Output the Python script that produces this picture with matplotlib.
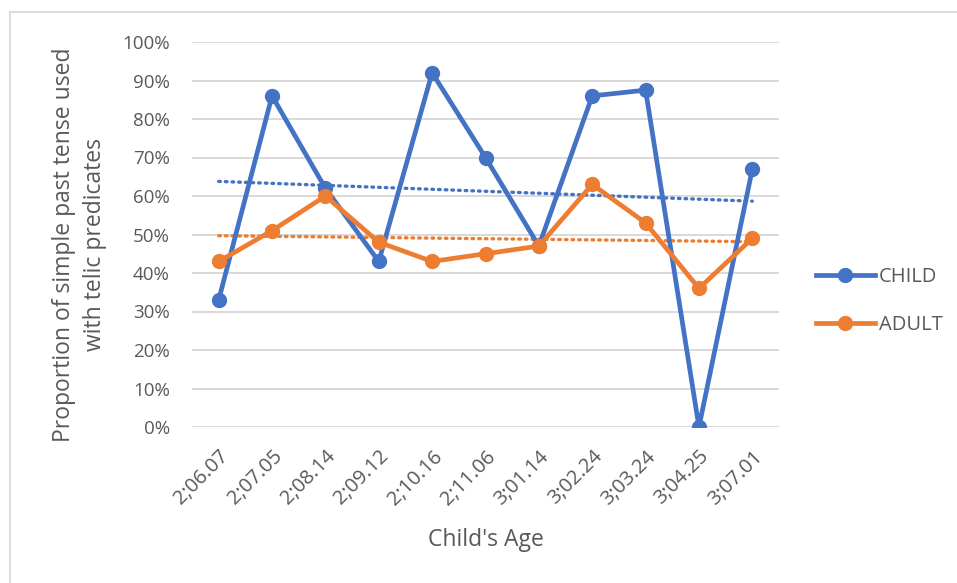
import matplotlib
matplotlib.use("Agg")
import matplotlib.pyplot as plt
import numpy as np
from matplotlib.patches import Rectangle

ages = ["2;06.07", "2;07.05", "2;08.14", "2;09.12", "2;10.16", "2;11.06",
        "3;01.14", "3;02.24", "3;03.24", "3;04.25", "3;07.01"]
child = [0.33, 0.86, 0.62, 0.43, 0.92, 0.70, 0.47, 0.86, 0.875, 0.00, 0.67]
adult = [0.43, 0.51, 0.60, 0.48, 0.43, 0.45, 0.47, 0.63, 0.53, 0.36, 0.49]

blue = "#4472C4"
orange = "#ED7D31"
txt = "#595959"
plt.rcParams['font.family'] = ['Open Sans', 'DejaVu Sans']

fig = plt.figure(figsize=(9.57, 5.83), dpi=100)
ax = fig.add_axes([192/957, 156/583, 587/957, 385/583])
x = np.arange(len(ages))

for y in np.arange(0, 1.01, 0.1):
    ax.axhline(y, color="#d9d9d9", lw=1.4, zorder=0)

ax.plot(x, child, color=blue, lw=3.4, marker="o", ms=10, label="CHILD", zorder=3)
ax.plot(x, adult, color=orange, lw=3.4, marker="o", ms=10, label="ADULT", zorder=4)

for s, c in ((child, blue), (adult, orange)):
    p = np.polyfit(x, s, 1)
    ax.plot(x, np.polyval(p, x), color=c, lw=2.4, ls=(0, (0.5, 1.5)),
            dash_capstyle="round", zorder=2)

ax.set_xlim(-0.5, len(ages) - 0.5)
ax.set_ylim(0, 1)
ax.set_yticks(np.arange(0, 1.01, 0.1))
ax.set_yticklabels([f"{int(round(v*100))}%" for v in np.arange(0, 1.01, 0.1)])
ax.set_xticks(x)
ax.set_xticklabels(ages, rotation=45, ha="right", rotation_mode="anchor")
ax.tick_params(axis="both", length=0, colors=txt)
ax.tick_params(axis="y", pad=16, labelsize=13.5)
ax.tick_params(axis="x", pad=14, labelsize=14.5)
for sp in ax.spines.values():
    sp.set_visible(False)

ax.set_ylabel("Proportion of simple past tense used\nwith telic predicates",
              fontsize=16.5, color=txt, linespacing=1.4)
ax.yaxis.set_label_coords(-0.145, 0.473)
ax.set_xlabel("Child's Age", fontsize=16.5, color=txt, labelpad=14)

leg = ax.legend(loc="center left", bbox_to_anchor=(798/957, 282/583),
                bbox_transform=fig.transFigure, frameon=False, fontsize=14.5,
                labelcolor=txt, handlelength=2.9, labelspacing=1.35, handletextpad=0.2)

fig.patches.append(Rectangle((10/957, -0.05), 1.0, 1 - 12/583 + 0.05,
                             transform=fig.transFigure, fill=False,
                             edgecolor="#d9d9d9", lw=1.3))
fig.savefig("out.png", dpi=100)
